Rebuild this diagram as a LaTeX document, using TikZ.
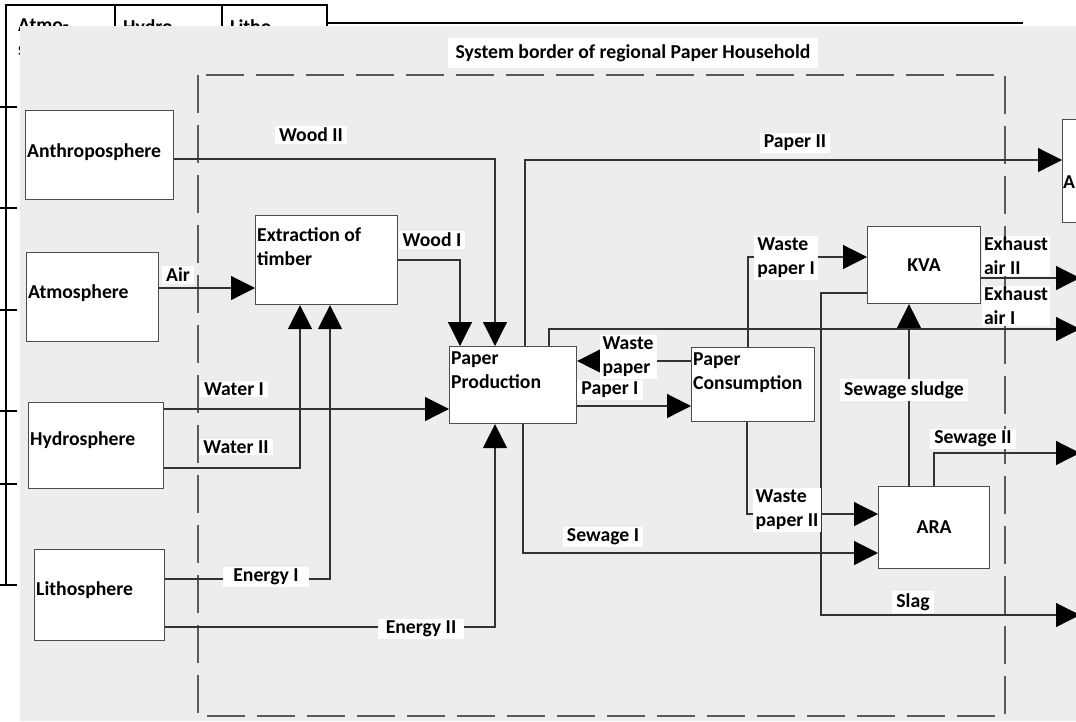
\documentclass[tikz,border=0pt]{standalone}
\usepackage{fontspec}
\setmainfont{Carlito}
\usetikzlibrary{arrows.meta,positioning,calc}

\begin{document}
\begin{tikzpicture}[x=1pt,y=-1pt]

\tikzset{every node/.style={font=\fontsize{19.7}{24}\selectfont\bfseries},
procbox/.style={draw=black!70,line width=1.1pt,fill=white,inner sep=0pt,anchor=north west},
flowlabel/.style={fill=white,inner xsep=4pt,inner ysep=2pt,align=left},
flow/.style={draw=black!80,line width=1.2pt,-{Triangle[length=24pt,width=24pt,black]}},
tableline/.style={line width=2.6pt,black},
border/.style={draw=black!65,line width=1.4pt,dash pattern=on 38pt off 12pt}}

\clip (0,0) rectangle (1076,721);
\fill[white] (0,0) rectangle (1076,721);

% Table behind the scheme
\node[anchor=north west,inner sep=0pt,align=left] (colAtmo) at (18,19) {Atmo-\\sphere};
\node[anchor=north west,inner sep=0pt,align=left] (colHydro) at (123,19) {Hydro-\\sphere};
\node[anchor=north west,inner sep=0pt,align=left] (colLitho) at (230,19) {Litho-\\sphere};
\draw[tableline] (6,5) -- (6,585);
\draw[tableline] (4.7,5) -- (328,5);
\foreach \x in {115,222,327} \draw[tableline] (\x,5) -- (\x,26);
\foreach \y in {107,208,310,411,484,585} \draw[tableline] (0,\y) -- (17,\y); % tick marks
\draw[line width=1.2pt] (327,23) -- (1023,23);

% Scanned page on top of the table
\fill[black!7] (20,26) rectangle (1076,721);

% System border
\draw[border] (198,75) rectangle (1005,716);

% Boxes
\node[procbox,minimum width=148pt,minimum height=89pt,label={[anchor=west,inner sep=2pt,yshift=3pt]west:Anthroposphere}] (anthro) at (25,110) {};
\node[procbox,minimum width=132pt,minimum height=89pt,label={[anchor=west,inner sep=2pt,yshift=4pt]west:Atmosphere}] (atmo) at (26,252) {};
\node[procbox,minimum width=135pt,minimum height=86pt,label={[anchor=west,inner sep=2pt,yshift=5pt]west:Hydrosphere}] (hydro) at (28,402) {};
\node[procbox,minimum width=130pt,minimum height=91pt,label={[anchor=west,inner sep=2pt,yshift=5pt]west:Lithosphere}] (litho) at (34,549) {};
\node[procbox,minimum width=142pt,minimum height=89pt,label={[anchor=north west,align=left,inner sep=2pt,yshift=-10pt]north west:Extraction of\\timber}] (extraction) at (255,215) {};
\node[procbox,minimum width=127pt,minimum height=77pt,label={[anchor=north west,align=left,inner sep=2pt,yshift=-4pt]north west:Paper\\Production}] (paperProd) at (449,346) {};
\node[procbox,minimum width=123pt,minimum height=74pt,label={[anchor=north west,align=left,inner sep=2pt,yshift=-4pt]north west:Paper\\Consumption}] (paperCons) at (691,347) {};
\node[procbox,minimum width=113pt,minimum height=77pt] (kva) at (867,226) {KVA};
\node[procbox,minimum width=111pt,minimum height=82pt] (ara) at (878,486) {ARA};
\node[procbox,minimum width=160pt,minimum height=103pt,label={[anchor=west,inner sep=1pt,yshift=-12pt]west:Anthroposphere}] (anthroRight) at (1062,119) {};

% Free ends at the right edge
\coordinate (exAirOne) at (1080,329);
\coordinate (exAirTwo) at (1080,278);
\coordinate (sewageOut) at (1080,453);
\coordinate (slagOut) at (1080,615);

% Edges
\draw[flow] (anthro.east |- 0,159) -| (paperProd.north -| 495,0); % wood II
\draw[flow] (extraction.east |- 0,260) -| (paperProd.north -| 460,0); % wood I
\draw[flow] (atmo.east |- 0,288) -- (extraction.west |- 0,288); % air
\draw[flow] (hydro.east |- 0,409) -- (paperProd.west |- 0,409); % water I
\draw[flow] (hydro.east |- 0,468) -| (extraction.south -| 300,0); % water II
\draw[flow] (litho.east |- 0,579) -| (extraction.south -| 330,0); % energy I
\draw[flow] (litho.east |- 0,627) -| (paperProd.south -| 495,0); % energy II
\draw[flow] (paperProd.east |- 0,406) -- (paperCons.west |- 0,406); % paper I
\draw[flow] (paperCons.west |- 0,361) -- (paperProd.east |- 0,361); % waste paper
\draw[flow] (paperProd.north -| 525,0) |- (anthroRight.west |- 0,160); % paper II
\draw[flow] (paperProd.north -| 549,0) |- (exAirOne); % exhaust air I
\draw[flow] (paperProd.south -| 523,0) |- (ara.west |- 0,553); % sewage I
\draw[flow] (paperCons.north -| 748,0) |- (kva.west |- 0,257); % waste paper I
\draw[flow] (paperCons.south -| 747,0) |- (ara.west |- 0,514); % waste paper II
\draw[flow] (kva.east |- 0,278) -- (exAirTwo); % exhaust air II
\draw[flow] (kva.west |- 0,293) -| (slagOut -| 821,0) -- (slagOut); % slag
\draw[flow] (ara.north -| 909,0) -- (kva.south -| 909,0); % sewage sludge
\draw[flow] (ara.north -| 934,0) |- (sewageOut); % sewage II

% Flow labels
\node[flowlabel,inner xsep=8pt,inner ysep=6pt] (title) at (633,53) {System border of regional Paper Household};
\node[flowlabel] (woodTwoLabel) at (311,135) {Wood II};
\node[flowlabel] (woodOneLabel) at (432,240) {Wood I};
\node[flowlabel] (airLabel) at (178,275) {Air};
\node[flowlabel] (waterOneLabel) at (234,389) {Water I};
\node[flowlabel] (waterTwoLabel) at (236,447) {Water II};
\node[flowlabel,inner xsep=10pt] (energyOneLabel) at (266,577) {Energy I};
\node[flowlabel,inner xsep=8pt] (energyTwoLabel) at (421,629) {Energy II};
\node[flowlabel] (paperOneLabel) at (610,390) {Paper I};
\node[flowlabel,inner xsep=3pt] (wastePaperLabel) at (628,357) {Waste\\paper};
\node[flowlabel] (sewageOneLabel) at (603,537) {Sewage I};
\node[flowlabel] (paperTwoLabel) at (795,143) {Paper II};
\node[flowlabel,inner xsep=3pt] (wastePaperOneLabel) at (786,258) {Waste\\paper I};
\node[flowlabel,inner xsep=3pt] (wastePaperTwoLabel) at (787,510) {Waste\\paper II};
\node[flowlabel,inner xsep=2pt,inner ysep=1pt] (exAirTwoLabel) at (1016,256) {Exhaust\\air II};
\node[flowlabel,inner xsep=2pt,inner ysep=1pt] (exAirOneLabel) at (1016,306) {Exhaust\\air I};
\node[flowlabel] (sludgeLabel) at (904,390) {Sewage sludge};
\node[flowlabel] (sewageTwoLabel) at (973,439) {Sewage II};
\node[flowlabel] (slagLabel) at (913,602) {Slag};

\end{tikzpicture}
\end{document}
